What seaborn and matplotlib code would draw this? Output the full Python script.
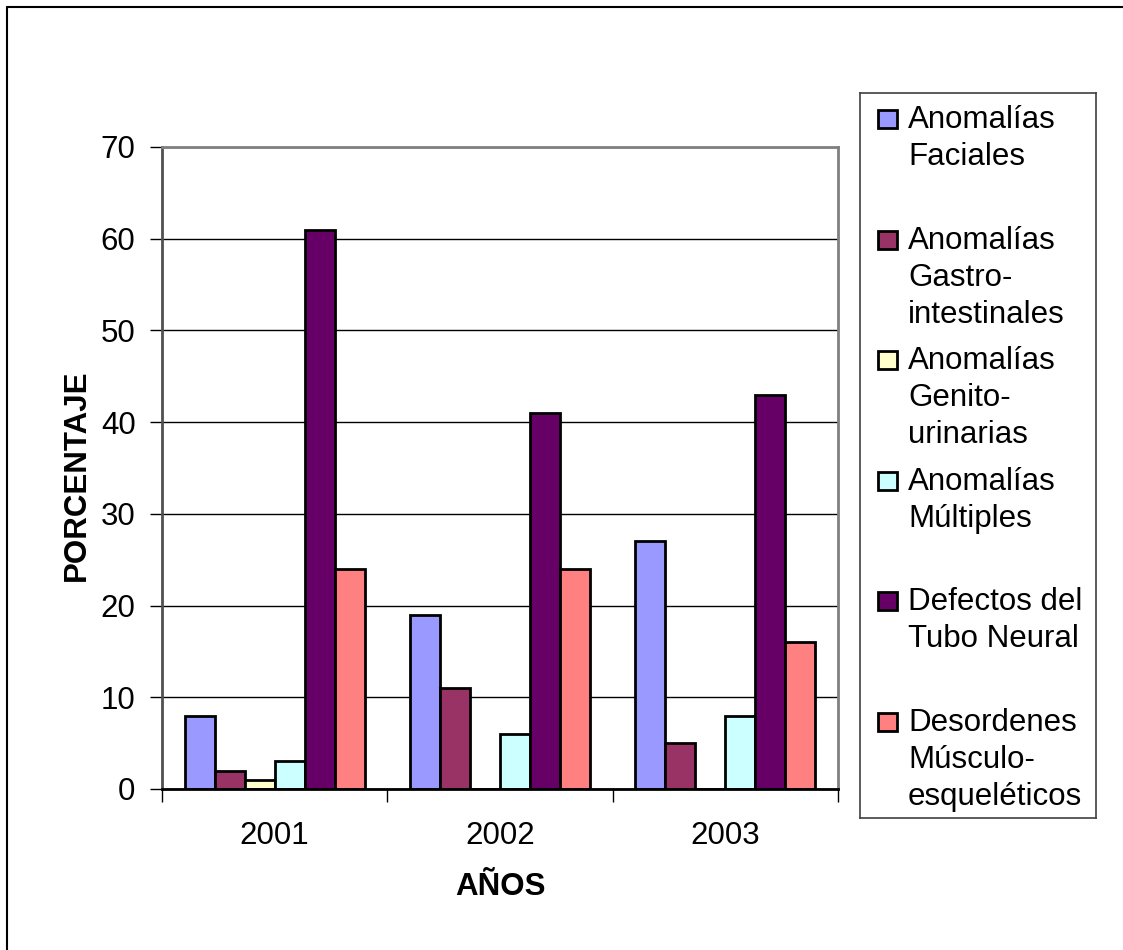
# Malformaciones congénitas por año - gráfico de barras agrupadas
import pandas as pd
import matplotlib
matplotlib.use("Agg")
import matplotlib.pyplot as plt
from matplotlib.patches import Rectangle
from matplotlib.lines import Line2D
import seaborn as sns

# Datos
years = ["2001", "2002", "2003"]
series = [
    "Anomalías\nFaciales",
    "Anomalías\nGastro-\nintestinales",
    "Anomalías\nGenito-\nurinarias",
    "Anomalías\nMúltiples",
    "Defectos del\nTubo Neural",
    "Desordenes\nMúsculo-\nesqueléticos",
]
faciales = [8, 19, 27]
gastro = [2, 11, 5]
genito = [1, 0, 0]
multiples = [3, 6, 8]
tubo_neural = [61, 41, 43]
musculo = [24, 24, 16]
colors = ["#9999FF", "#993366", "#FFFFCC", "#CCFFFF", "#660066", "#FF8080"]
y_ticks = [0, 10, 20, 30, 40, 50, 60, 70]

# Tabla larga para seaborn
values = [faciales, gastro, genito, multiples, tubo_neural, musculo]
rows = []
for name, vals in zip(series, values):
    for year, v in zip(years, vals):
        rows.append({"año": year, "serie": name, "porcentaje": v})
data = pd.DataFrame(rows)

sns.set_style("white")
plt.rcParams["font.family"] = ["Liberation Sans", "DejaVu Sans"]
plt.rcParams["text.color"] = "black"
plt.rcParams["axes.labelcolor"] = "black"
plt.rcParams["xtick.color"] = "black"
plt.rcParams["ytick.color"] = "black"
FS = 22.5

W, H = 1123, 950
fig = plt.figure(figsize=(W / 100, H / 100), dpi=100)
ax = fig.add_axes([162 / W, 1 - 789 / H, 676 / W, 642 / H])

sns.barplot(data=data, x="año", y="porcentaje", hue="serie", order=years,
            hue_order=series, palette=colors, saturation=1, width=0.8,
            edgecolor="black", linewidth=2, errorbar=None, legend=False, ax=ax)

ax.set_xlim(-0.5, len(years) - 0.5)
ax.set_ylim(0, 70)
ax.set_yticks(y_ticks)
ax.yaxis.grid(True, color="black", linewidth=1)
ax.set_axisbelow(True)

# Bordes del área de trazado
ax.spines["top"].set_color("#808080")
ax.spines["right"].set_color("#808080")
ax.spines["left"].set_color("#505050")
ax.spines["bottom"].set_color("black")
for s in ax.spines.values():
    s.set_linewidth(2)
    s.set_visible(True)

ax.tick_params(axis="y", direction="out", length=9, width=1, color="black",
               labelcolor="black", pad=10, labelsize=FS, left=True)
ax.tick_params(axis="x", which="major", length=0, pad=23, labelsize=FS,
               labelcolor="black")
ax.set_xticks([i - 0.5 for i in range(len(years) + 1)], minor=True)
ax.tick_params(axis="x", which="minor", direction="out", length=9, width=1,
               color="black", bottom=True)

ax.set_xlabel("AÑOS", fontsize=FS, fontweight="bold", va="center", color="black")
ax.xaxis.set_label_coords(0.5, -(887 - 789) / 642)
ax.set_ylabel("PORCENTAJE", fontsize=FS, fontweight="bold", va="center",
              color="black")
ax.yaxis.set_label_coords(-(162 - 77) / 676, (789 - 475) / 642)

# Leyenda dibujada en su propio recuadro
lw_, lh_ = 236, 725
lax = fig.add_axes([860 / W, 1 - 818 / H, lw_ / W, lh_ / H])
lax.set_xlim(0, lw_)
lax.set_ylim(lh_, 0)
lax.set_xticks([])
lax.set_yticks([])
for s in lax.spines.values():
    s.set_visible(True)
    s.set_color("#404040")
    s.set_linewidth(1.2)
step = 120.6
pitch = 37
for i, (lab, col) in enumerate(zip(series, colors)):
    base = 35 + i * step
    lax.add_patch(Rectangle((18, base - 18), 19, 18, facecolor=col,
                            edgecolor="black", linewidth=2))
    for k, line in enumerate(lab.split("\n")):
        lax.text(48, base + k * pitch, line, va="baseline", ha="left",
                 fontsize=FS, color="black")

# Marco del gráfico (solo izquierda y arriba visibles)
fig.add_artist(Line2D([7 / W, 7 / W], [0, 1 - 7 / H], color="black", lw=1.5,
                      transform=fig.transFigure))
fig.add_artist(Line2D([7 / W, 1], [1 - 7 / H, 1 - 7 / H], color="black", lw=1.5,
                      transform=fig.transFigure))

fig.savefig("out.png", dpi=100, facecolor="white")
